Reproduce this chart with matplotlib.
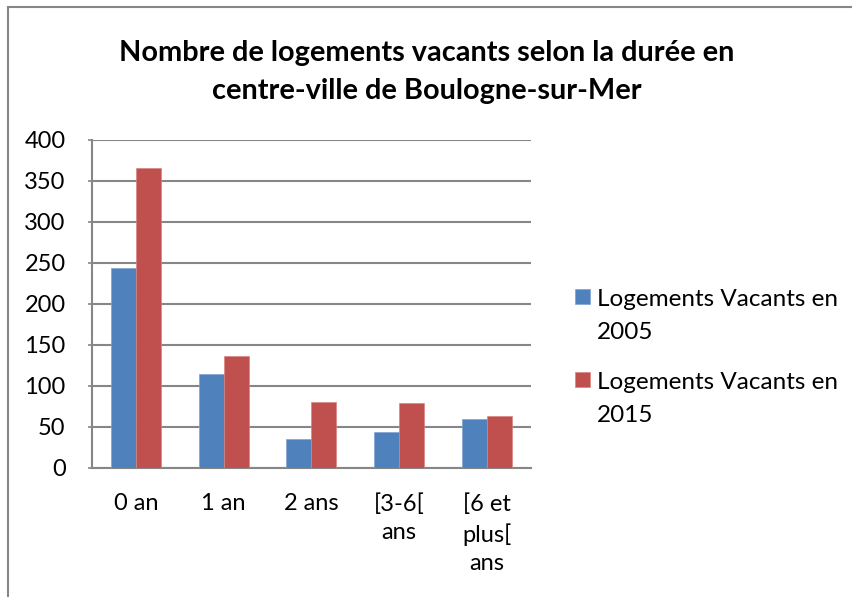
import matplotlib
matplotlib.use("Agg")
import matplotlib.pyplot as plt
import numpy as np
from matplotlib.patches import Rectangle

# durée de vacance des logements (centre-ville de Boulogne-sur-Mer)
categories = ["0 an", "1 an", "2 ans", "[3-6[\nans", "[6 et\nplus[\nans"]
vacants_2005 = [244, 115, 35, 44, 60]
vacants_2015 = [366, 136, 81, 79, 63]
series_labels = ["Logements Vacants en\n2005", "Logements Vacants en\n2015"]
y_ticks = [0, 50, 100, 150, 200, 250, 300, 350, 400]

plt.rcParams["font.family"] = ["Lato", "DejaVu Sans"]

fig = plt.figure(figsize=(8.53, 5.97), dpi=100)
ax = fig.add_axes([0.1079, 0.2161, 0.5143, 0.5494])

x = np.arange(len(categories))
largeur = 0.285
b1 = ax.bar(x - largeur / 2, vacants_2005, largeur, color="#4F81BD",
            edgecolor="#7FA3D0", linewidth=0.5, label=series_labels[0], zorder=3)
b2 = ax.bar(x + largeur / 2, vacants_2015, largeur, color="#C0504D",
            edgecolor="#D88583", linewidth=0.5, label=series_labels[1], zorder=3)

ax.set_xlim(-0.5, len(categories) - 0.5)
ax.set_ylim(0, 400)
ax.set_yticks(y_ticks)
ax.set_xticks(x)
ax.set_xticklabels(categories, linespacing=1.45, va="top")
ax.tick_params(axis="x", length=0, pad=18, labelsize=17)
ax.tick_params(axis="y", length=3, width=1.2, color="#868686", pad=16, labelsize=17)

ax.grid(axis="y", color="#868686", linewidth=1.5, zorder=0)
for side in ["top", "right"]:
    ax.spines[side].set_visible(False)
for side in ["left", "bottom"]:
    ax.spines[side].set_color("#868686")
    ax.spines[side].set_linewidth(1.5)

fig.text(0.5, 0.879, "Nombre de logements vacants selon la durée en\ncentre-ville de Boulogne-sur-Mer",
         ha="center", va="center", fontsize=20.8, fontweight="bold", linespacing=1.55)

leg = fig.legend(handles=[b1, b2], loc="upper left", bbox_to_anchor=(0.649, 0.553),
                 frameon=False, fontsize=17.5, handlelength=0.6, handleheight=0.6,
                 handletextpad=0.3, labelspacing=1.2)
for t in leg.get_texts():
    t.set_linespacing(1.7)
# carré de légende aligné sur la première ligne du libellé
for col in leg._legend_handle_box.get_children():
    for row in col.get_children():
        row.align = "top"

# cadre de la zone du graphique
fig.patches.append(Rectangle((8 / 853, -0.1), 1.2, 0.1 + 1 - 7 / 597,
                             transform=fig.transFigure, fill=False,
                             edgecolor="#868686", linewidth=1.5))

fig.savefig("out.png", dpi=100)
